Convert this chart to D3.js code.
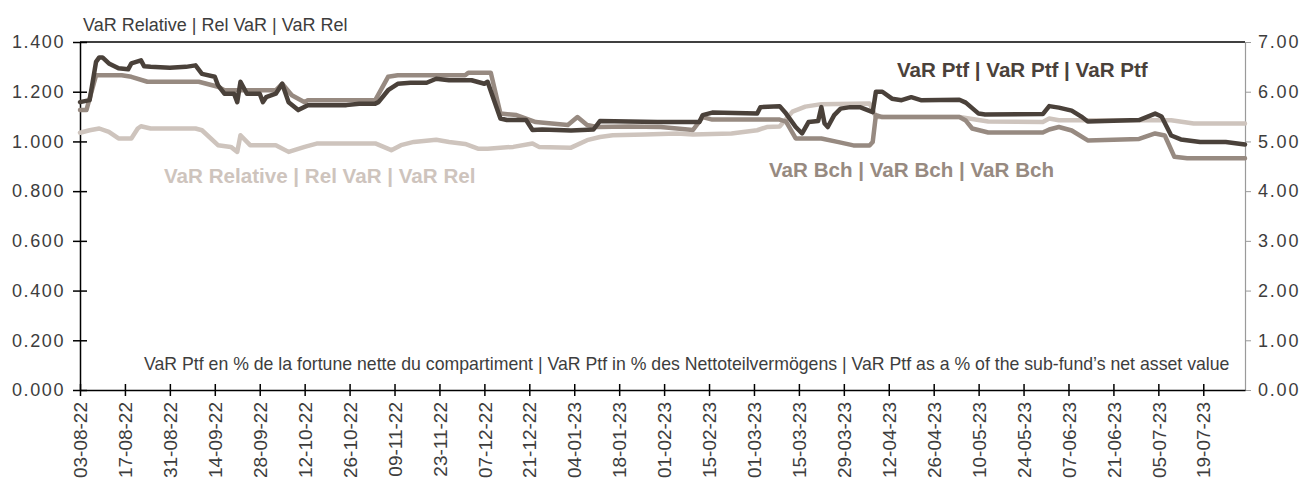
<!DOCTYPE html>
<html>
<head>
<meta charset="utf-8">
<script src="https://cdn.jsdelivr.net/npm/d3@7/dist/d3.min.js"></script>
<style>
  html, body { margin: 0; padding: 0; background: #fff; }
  svg { display: block; font-family: "Liberation Sans", Arial, sans-serif; }
  .tick text { fill: #3d3d3d; }
</style>
</head>
<body>
<div id="chart"></div>
<script>
// tick labels on the time axis (every 14 days)
var tickLabels = ["03-08-22", "17-08-22", "31-08-22", "14-09-22", "28-09-22", "12-10-22", "26-10-22",
  "09-11-22", "23-11-22", "07-12-22", "21-12-22", "04-01-23", "18-01-23", "01-02-23", "15-02-23",
  "01-03-23", "15-03-23", "29-03-23", "12-04-23", "26-04-23", "10-05-23", "24-05-23", "07-06-23",
  "21-06-23", "05-07-23", "19-07-23"];

// VaR Ptf (right axis)
var ptfDates = ["2022-08-03", "2022-08-06", "2022-08-08", "2022-08-09", "2022-08-10", "2022-08-12", "2022-08-15",
  "2022-08-18", "2022-08-19", "2022-08-22", "2022-08-23", "2022-08-25", "2022-08-31", "2022-09-05", "2022-09-08",
  "2022-09-10", "2022-09-14", "2022-09-15", "2022-09-17", "2022-09-20", "2022-09-21", "2022-09-22", "2022-09-24",
  "2022-09-28", "2022-09-29", "2022-09-30", "2022-10-03", "2022-10-05", "2022-10-07", "2022-10-10", "2022-10-13",
  "2022-10-25", "2022-10-29", "2022-11-03", "2022-11-04", "2022-11-07", "2022-11-10", "2022-11-14", "2022-11-19",
  "2022-11-22", "2022-11-26", "2022-12-03", "2022-12-07", "2022-12-08", "2022-12-10", "2022-12-12", "2022-12-14",
  "2022-12-20", "2022-12-22", "2022-12-25", "2023-01-03", "2023-01-10", "2023-01-12", "2023-01-30", "2023-02-12",
  "2023-02-13", "2023-02-16", "2023-03-02", "2023-03-03", "2023-03-09", "2023-03-11", "2023-03-14", "2023-03-16",
  "2023-03-18", "2023-03-21", "2023-03-22", "2023-03-23", "2023-03-24", "2023-03-26", "2023-03-28", "2023-03-31",
  "2023-04-03", "2023-04-07", "2023-04-08", "2023-04-10", "2023-04-13", "2023-04-16", "2023-04-19", "2023-04-22",
  "2023-05-04", "2023-05-06", "2023-05-10", "2023-05-12", "2023-05-30", "2023-06-01", "2023-06-04", "2023-06-08",
  "2023-06-11", "2023-06-13", "2023-06-29", "2023-07-04", "2023-07-06", "2023-07-09", "2023-07-12", "2023-07-18",
  "2023-07-26", "2023-08-01"];
var ptfValues = [5.79, 5.83, 6.60, 6.69, 6.69, 6.57, 6.47,
  6.45, 6.57, 6.63, 6.51, 6.50, 6.48, 6.50, 6.53,
  6.36, 6.30, 6.13, 5.96, 5.96, 5.79, 6.20, 5.96,
  5.96, 5.79, 5.89, 5.96, 6.16, 5.79, 5.63, 5.73,
  5.73, 5.76, 5.76, 5.79, 6.03, 6.16, 6.18, 6.18,
  6.26, 6.23, 6.23, 6.16, 6.20, 5.83, 5.46, 5.43,
  5.43, 5.23, 5.24, 5.22, 5.24, 5.41, 5.39, 5.39,
  5.53, 5.58, 5.56, 5.69, 5.71, 5.56, 5.29, 5.16,
  5.39, 5.41, 5.69, 5.36, 5.29, 5.53, 5.66, 5.69,
  5.69, 5.59, 6.00, 6.00, 5.86, 5.83, 5.89, 5.83,
  5.84, 5.78, 5.56, 5.54, 5.55, 5.71, 5.68, 5.62,
  5.50, 5.40, 5.43, 5.56, 5.50, 5.12, 5.04, 4.99,
  4.99, 4.94];

// VaR Bch (right axis)
var bchDates = ["2022-08-03", "2022-08-05", "2022-08-08", "2022-08-16", "2022-08-19", "2022-08-24", "2022-09-09",
  "2022-09-15", "2022-09-17", "2022-10-03", "2022-10-05", "2022-10-08", "2022-10-12", "2022-10-13", "2022-11-03",
  "2022-11-07", "2022-11-10", "2022-12-01", "2022-12-02", "2022-12-09", "2022-12-12", "2022-12-17", "2022-12-23",
  "2023-01-02", "2023-01-05", "2023-01-08", "2023-01-11", "2023-01-21", "2023-01-31", "2023-02-10", "2023-02-13",
  "2023-02-16", "2023-03-09", "2023-03-11", "2023-03-14", "2023-03-22", "2023-03-27", "2023-04-01", "2023-04-06",
  "2023-04-07", "2023-04-08", "2023-04-10", "2023-05-04", "2023-05-06", "2023-05-08", "2023-05-13", "2023-05-30",
  "2023-06-01", "2023-06-04", "2023-06-08", "2023-06-13", "2023-06-29", "2023-07-04", "2023-07-07", "2023-07-10",
  "2023-07-14", "2023-08-01"];
var bchValues = [5.63, 5.63, 6.33, 6.33, 6.30, 6.20, 6.20,
  6.10, 6.03, 6.03, 6.16, 5.93, 5.79, 5.83, 5.83,
  6.30, 6.33, 6.33, 6.38, 6.38, 5.56, 5.53, 5.39,
  5.33, 5.49, 5.33, 5.29, 5.30, 5.29, 5.23, 5.49,
  5.44, 5.44, 5.40, 5.06, 5.06, 4.99, 4.92, 4.92,
  4.99, 5.53, 5.49, 5.49, 5.42, 5.26, 5.18, 5.18,
  5.24, 5.29, 5.22, 5.02, 5.05, 5.16, 5.12, 4.69,
  4.66, 4.66];

// VaR Relative (left axis)
var relDates = ["2022-08-03", "2022-08-06", "2022-08-09", "2022-08-12", "2022-08-15", "2022-08-19", "2022-08-21",
  "2022-08-22", "2022-08-25", "2022-09-08", "2022-09-10", "2022-09-15", "2022-09-19", "2022-09-21", "2022-09-22",
  "2022-09-25", "2022-10-03", "2022-10-07", "2022-10-12", "2022-10-16", "2022-11-03", "2022-11-08", "2022-11-11",
  "2022-11-15", "2022-11-22", "2022-11-26", "2022-12-01", "2022-12-05", "2022-12-08", "2022-12-16", "2022-12-22",
  "2022-12-24", "2023-01-03", "2023-01-08", "2023-01-12", "2023-01-16", "2023-01-26", "2023-02-05", "2023-02-10",
  "2023-02-22", "2023-03-02", "2023-03-05", "2023-03-09", "2023-03-13", "2023-03-17", "2023-03-22", "2023-04-06",
  "2023-04-08", "2023-05-04", "2023-05-13", "2023-05-30", "2023-06-01", "2023-06-04", "2023-07-09", "2023-07-16",
  "2023-08-01"];
var relValues = [1.035, 1.045, 1.052, 1.038, 1.012, 1.012, 1.052,
  1.061, 1.052, 1.052, 1.045, 0.985, 0.978, 0.958, 1.025,
  0.985, 0.985, 0.958, 0.978, 0.992, 0.992, 0.965, 0.985,
  0.998, 1.007, 0.998, 0.990, 0.971, 0.971, 0.978, 0.992,
  0.978, 0.975, 1.005, 1.018, 1.025, 1.028, 1.032, 1.028,
  1.032, 1.045, 1.058, 1.060, 1.120, 1.140, 1.150, 1.153,
  1.098, 1.098, 1.080, 1.078, 1.092, 1.085, 1.085, 1.072,
  1.072];

var leftTicks = [0, 0.2, 0.4, 0.6, 0.8, 1.0, 1.2, 1.4];
var rightTicks = [0, 1, 2, 3, 4, 5, 6, 7];

var colPtf = '#4a413a', colBch = '#978a81', colRel = '#cec4bd';

var W = 1305, H = 483;
var plotL = 80, plotR = 1245, plotT = 42, plotB = 390;

var parseDate = d3.utcParse('%Y-%m-%d');
var parseTick = d3.utcParse('%d-%m-%y');

var svg = d3.select('#chart').append('svg')
  .attr('width', W).attr('height', H);

var x = d3.scaleUtc()
  .domain([parseDate('2022-08-03'), parseDate('2023-08-01')])
  .range([plotL, plotR]);
var yL = d3.scaleLinear().domain([0, 1.4]).range([plotB, plotT]);
var yR = d3.scaleLinear().domain([0, 7]).range([plotB, plotT]);

// frame: top line
svg.append('line')
  .attr('x1', plotL).attr('x2', plotR).attr('y1', plotT).attr('y2', plotT)
  .attr('stroke', '#000').attr('stroke-width', 1.5);

// left axis
var gL = svg.append('g')
  .attr('transform', 'translate(' + plotL + ',0)')
  .call(d3.axisLeft(yL).tickValues(leftTicks).tickFormat(d3.format('.3f')).tickSizeInner(7).tickSizeOuter(0));
gL.select('.domain').attr('stroke', '#000').attr('stroke-width', 1.5);
gL.selectAll('.tick line').attr('stroke', '#000').attr('stroke-width', 1.5).attr('x1', -7).attr('x2', 7);
gL.selectAll('.tick text').attr('font-size', 18).attr('letter-spacing', '1.6px').attr('x', -15);

// right axis
var gR = svg.append('g')
  .attr('transform', 'translate(' + plotR + ',0)')
  .call(d3.axisRight(yR).tickValues(rightTicks).tickFormat(d3.format('.2f')).tickSizeInner(6).tickSizeOuter(0));
gR.select('.domain').attr('stroke', '#9a9a9a').attr('stroke-width', 1.2);
gR.selectAll('.tick line').attr('stroke', '#9a9a9a');
gR.selectAll('.tick text').attr('font-size', 18).attr('letter-spacing', '1.8px').attr('x', 13);

// bottom axis
var gX = svg.append('g')
  .attr('transform', 'translate(0,' + plotB + ')')
  .call(d3.axisBottom(x).tickValues(tickLabels.map(parseTick)).tickFormat(d3.utcFormat('%d-%m-%y')).tickSizeOuter(0).tickSizeInner(6));
gX.select('.domain').attr('stroke', '#000').attr('stroke-width', 1.5);
gX.selectAll('.tick line').attr('stroke', '#000').attr('stroke-width', 1.5).attr('y1', -6).attr('y2', 6);
gX.selectAll('.tick text')
  .attr('font-size', 19)
  .attr('text-anchor', 'end')
  .attr('transform', 'rotate(-90)')
  .attr('x', -12).attr('y', 0).attr('dy', '0.35em');

// lines
function drawLine(dates, values, yScale, color) {
  var pts = dates.map(function (d, i) { return [parseDate(d), values[i]]; });
  svg.append('path')
    .datum(pts)
    .attr('fill', 'none')
    .attr('stroke', color)
    .attr('stroke-width', 4.5)
    .attr('stroke-linejoin', 'round')
    .attr('stroke-linecap', 'round')
    .attr('d', d3.line().x(function (p) { return x(p[0]); }).y(function (p) { return yScale(p[1]); }));
}
drawLine(relDates, relValues, yL, colRel);
drawLine(bchDates, bchValues, yR, colBch);
drawLine(ptfDates, ptfValues, yR, colPtf);

// texts
svg.append('text').attr('x', 83).attr('y', 31)
  .attr('font-size', 18).attr('fill', '#3d3d3d')
  .text('VaR Relative | Rel VaR | VaR Rel');

svg.append('text').attr('x', 897).attr('y', 77)
  .attr('font-size', 20.6).attr('font-weight', 'bold').attr('fill', colPtf)
  .text('VaR Ptf | VaR Ptf | VaR Ptf');

svg.append('text').attr('x', 769).attr('y', 177)
  .attr('font-size', 20.6).attr('font-weight', 'bold').attr('fill', colBch)
  .text('VaR Bch | VaR Bch | VaR Bch');

svg.append('text').attr('x', 164).attr('y', 183)
  .attr('font-size', 20.6).attr('font-weight', 'bold').attr('fill', colRel)
  .text('VaR Relative | Rel VaR | VaR Rel');

svg.append('text').attr('x', 144).attr('y', 370)
  .attr('font-size', 17.7).attr('fill', '#3d3d3d')
  .text("VaR Ptf en % de la fortune nette du compartiment | VaR Ptf in % des Nettoteilvermögens | VaR Ptf as a % of the sub-fund\u2019s net asset value");
</script>
</body>
</html>
